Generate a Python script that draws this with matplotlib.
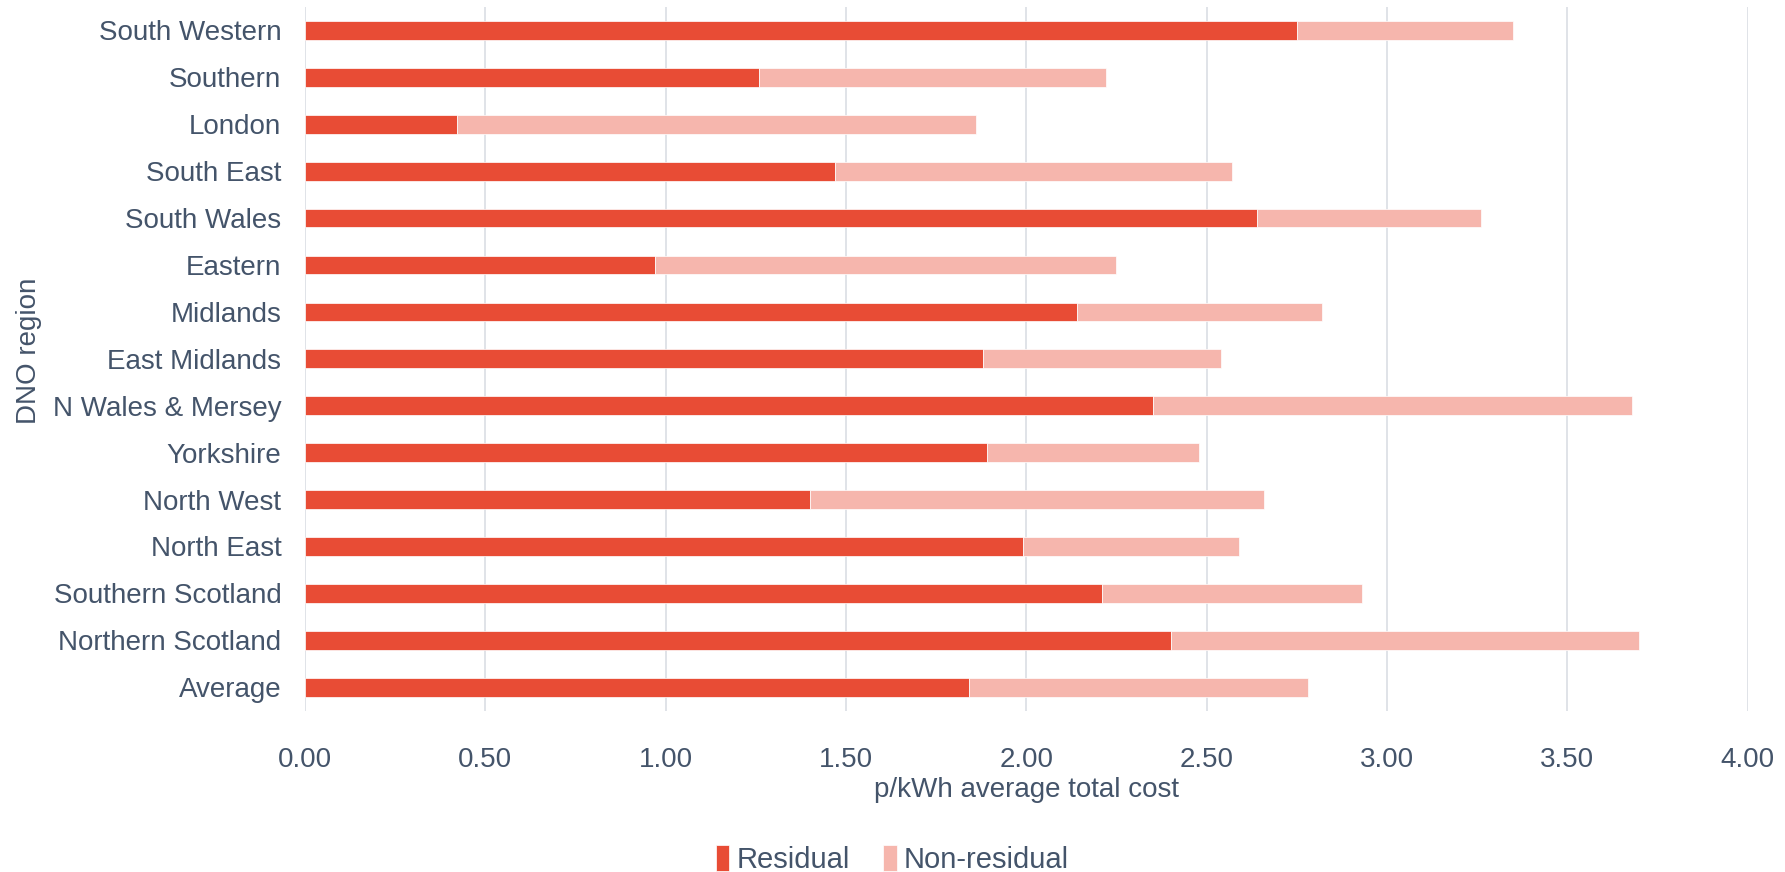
import numpy as np
import matplotlib
matplotlib.use("Agg")
import matplotlib.pyplot as plt

# DNO regions, listed top to bottom
regions = ["South Western", "Southern", "London", "South East", "South Wales",
           "Eastern", "Midlands", "East Midlands", "N Wales & Mersey", "Yorkshire",
           "North West", "North East", "Southern Scotland", "Northern Scotland",
           "Average"]
# p/kWh components
residual = [2.75, 1.26, 0.42, 1.47, 2.64, 0.97, 2.14, 1.88, 2.35, 1.89,
            1.40, 1.99, 2.21, 2.40, 1.84]
non_residual = [0.60, 0.96, 1.44, 1.10, 0.62, 1.28, 0.68, 0.66, 1.33, 0.59,
                1.26, 0.60, 0.72, 1.30, 0.94]
x_ticks = [0.0, 0.5, 1.0, 1.5, 2.0, 2.5, 3.0, 3.5, 4.0]

RED = "#E84C35"
PINK = "#F6B6AD"
TEXT = "#44546A"
GRID = "#DDE1E6"

plt.rcParams["font.family"] = ["Liberation Sans", "DejaVu Sans"]
plt.rcParams["font.size"] = 20

fig = plt.figure(figsize=(17.85, 8.72), dpi=100)
ax = fig.add_axes([0.1709, 0.185, 0.979 - 0.1709, 0.992 - 0.185])

y = np.arange(len(regions))
ax.barh(y, residual, height=0.4, color=RED, edgecolor="white", linewidth=0.5,
        label="Residual", zorder=3)
ax.barh(y, non_residual, left=residual, height=0.4, color=PINK, edgecolor="white",
        linewidth=0.5, label="Non-residual", zorder=3)

ax.set_ylim(len(regions) - 0.5, -0.5)
ax.set_xlim(0, 4.0)
ax.set_yticks(y)
ax.set_yticklabels(regions, color=TEXT)
ax.set_xticks(x_ticks)
ax.set_xticklabels([f"{t:.2f}" for t in x_ticks], color=TEXT)
ax.tick_params(axis="y", length=0, pad=17)
ax.tick_params(axis="x", length=0, pad=26)

ax.grid(axis="x", color=GRID, linewidth=1.3, zorder=0)
for s in ax.spines.values():
    s.set_visible(False)

ax.set_xlabel("p/kWh average total cost", color=TEXT, labelpad=3)
fig.text(0.016, 0.598, "DNO region", rotation=90, color=TEXT,
         ha="center", va="center", fontsize=20)

fig.legend(loc="center", bbox_to_anchor=(0.5, 0.014), ncol=2, frameon=False,
           handlelength=0.45, handleheight=1.0, handletextpad=0.25,
           columnspacing=1.15, labelcolor=TEXT, fontsize=21)

fig.savefig("out.png", dpi=100)
